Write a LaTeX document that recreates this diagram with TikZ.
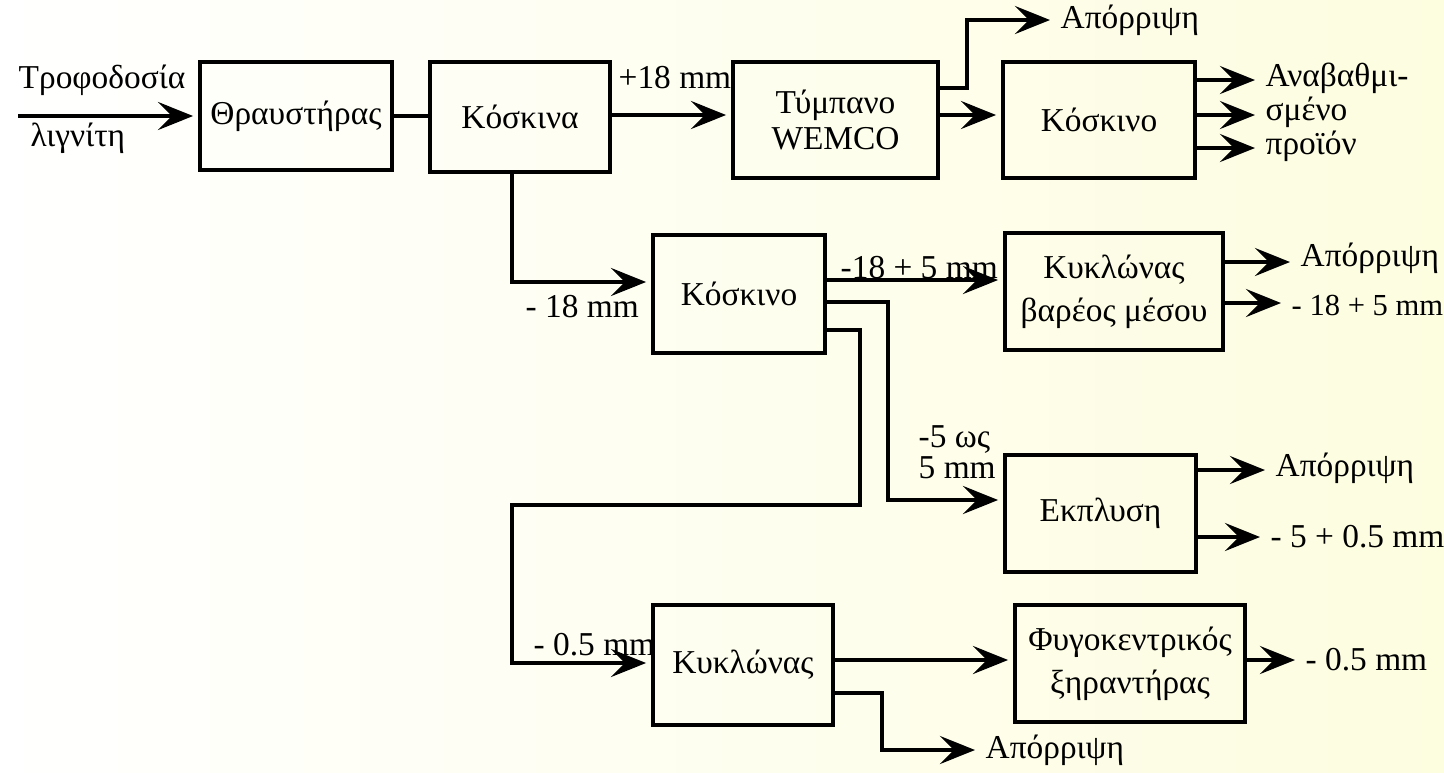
\documentclass[tikz,border=0pt]{standalone}
\usepackage{fontspec}
\setmainfont{Liberation Serif}
\usetikzlibrary{arrows.meta}
\definecolor{paper}{RGB}{253,253,224}
\tikzset{
	unit/.style={draw, line width=1.1pt, align=center, inner sep=1mm},
	flow/.style={->, line width=1.1pt, shorten >=0.5mm},
	pipe/.style={line width=1.1pt},
	lbl/.style={anchor=west, inner sep=0.5mm, align=left},
}
\begin{document}
\begin{tikzpicture}[x=0.1mm, y=-0.1mm, font=\fontsize{9.5}{11}\selectfont, >={Stealth[length=10pt,width=8pt,inset=4pt]}]
		\shade[left color=white, right color=paper] (0,0) rectangle (1444,772);
		\useasboundingbox (0,0) rectangle (1444,772);
		% units
		\node[unit, minimum width=19.2mm, minimum height=10.8mm] (crusher) at (296,116) {Θραυστήρας};
		\node[unit, minimum width=18mm, minimum height=11mm] (screens) at (520,117) {Κόσκινα};
		\node[unit, minimum width=20.5mm, minimum height=11.6mm, font=\fontsize{9.5}{10}\selectfont] (drum) at (835.5,120) {Τύμπανο\\WEMCO};
		\node[unit, minimum width=19.2mm, minimum height=11.6mm] (screenA) at (1099,120) {Κόσκινο};
		\node[unit, minimum width=17.2mm, minimum height=11.8mm] (screenB) at (739,294) {Κόσκινο};
		\node[unit, minimum width=21.8mm, minimum height=11.7mm, font=\fontsize{9.5}{12.2}\selectfont] (dmc) at (1114,291.5) {Κυκλώνας\\βαρέος μέσου};
		\node[unit, minimum width=19.1mm, minimum height=11.7mm] (wash) at (1100.5,513.5) {Εκπλυση};
		\node[unit, minimum width=18mm, minimum height=12mm] (cyclone) at (743,665) {Κυκλώνας};
		\node[unit, minimum width=23mm, minimum height=11.7mm, font=\fontsize{9.5}{12.2}\selectfont] (dryer) at (1130,663.5) {Φυγοκεντρικός\\ξηραντήρας};
		% labels
		\coordinate (feed) at (18,116);
		\node[lbl] (feedA) at (13,80) {Τροφοδοσία};
		\node[lbl] (feedB) at (25,138) {λιγνίτη};
		\node[lbl] (p18) at (613,78) {+18 mm};
		\node[lbl] (rej1) at (1055,20) {Απόρριψη};
		\node[lbl, font=\fontsize{9.5}{8.6}\selectfont] (product) at (1260,112) {Αναβαθμι-\\σμένο\\προϊόν};
		\node[lbl] (m18) at (520,307) {- 18 mm};
		\node[lbl] (m185) at (835,268) {-18 + 5 mm};
		\node[lbl] (rej2) at (1295,258) {Απόρριψη};
		\node[lbl, font=\fontsize{8.7}{10}\selectfont] (out185) at (1286,305) {- 18 + 5 mm};
		\node[lbl, font=\fontsize{9.5}{7.2}\selectfont] (m5) at (913,452) {-5 ως\\5 mm};
		\node[lbl] (rej3) at (1270,468) {Απόρριψη};
		\node[lbl] (out505) at (1265,537) {- 5 + 0.5 mm};
		\node[lbl] (m05) at (528,645) {- 0.5 mm};
		\node[lbl] (out05) at (1300,660) {- 0.5 mm};
		\node[lbl] (rej4) at (980,750) {Απόρριψη};
		% connectors
		\draw[flow] (feed) -- (crusher.west);
		\draw[pipe] (crusher.east) -- (crusher.east -| screens.west);
		\draw[flow] (screens.east |- 0,115) -- (drum.west |- 0,115);
		\draw[flow] (drum.east |- 0,88) -- ++(27,0) |- (rej1.west);
		\draw[flow] (drum.east |- 0,115) -- (screenA.west |- 0,115);
		\draw[flow] (screenA.east |- 0,80) -- (product.west |- 0,80);
		\draw[flow] (screenA.east |- 0,115) -- (product.west |- 0,115);
		\draw[flow] (screenA.east |- 0,148) -- (product.west |- 0,148);
		\draw[flow] (screens.south -| 512,0) |- (screenB.west |- 0,282);
		\draw[flow] (screenB.east |- 0,280) -- (dmc.west |- 0,280);
		\draw[flow] (dmc.east |- 0,262) -- (rej2.west |- 0,262);
		\draw[flow] (dmc.east |- 0,303) -- (out185.west |- 0,303);
		\draw[flow] (screenB.east |- 0,302) -| (888,500) -- (wash.west |- 0,500);
		\draw[flow] (screenB.east |- 0,330) -| (860,505) -| (512,663) -- (cyclone.west |- 0,663);
		\draw[flow] (wash.east |- 0,470) -- (rej3.west |- 0,470);
		\draw[flow] (wash.east |- 0,537) -- (out505.west |- 0,537);
		\draw[flow] (cyclone.east |- 0,660) -- (dryer.west |- 0,660);
		\draw[flow] (dryer.east |- 0,660) -- (out05.west |- 0,660);
		\draw[flow] (cyclone.east |- 0,693) -- ++(47,0) |- (rej4.west);
	\end{tikzpicture}
\end{document}
